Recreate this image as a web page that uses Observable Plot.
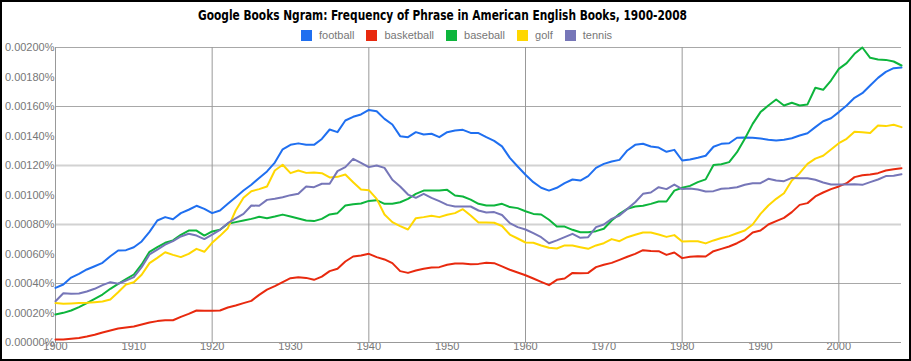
<!DOCTYPE html>
<html>
<head>
<meta charset="utf-8">
<script src="https://cdn.jsdelivr.net/npm/d3@7"></script>
<script src="https://cdn.jsdelivr.net/npm/@observablehq/plot@0.6"></script>
<style>
  body { margin: 0; background: #fff; }
  #wrap { position: relative; width: 911px; height: 361px; overflow: hidden; background: #fff; }
  #chart { position: absolute; left: 0; top: 0; }
  #border { position: absolute; left: 0; top: 0; width: 911px; height: 361px; box-sizing: border-box; border: 2px solid #000; pointer-events: none; }
  #title { position: absolute; top: 7px; left: 198px; white-space: nowrap; transform-origin: 0 0;
           font-family: "Liberation Sans Narrow", "DejaVu Sans Condensed", "Liberation Sans", sans-serif;
           font-weight: bold; font-size: 13.5px; line-height: 16px; color: #000; }
  #legend { position: absolute; top: 29px; left: 301px; display: flex; align-items: center; white-space: nowrap;
            font-family: "Liberation Sans", Arial, sans-serif; font-size: 11px; color: #777; line-height: 13px; }
  .item { display: flex; align-items: center; margin-right: 12px; }
  .sw { width: 11px; height: 11px; margin-right: 7px; }
</style>
</head>
<body>
<div id="wrap">
  <div id="chart"></div>
  <div id="title"></div>
  <div id="legend"></div>
  <div id="border"></div>
</div>
<script>
const titleText = "Google Books Ngram: Frequency of Phrase in American English Books, 1900-2008";
const names = ["football", "basketball", "baseball", "golf", "tennis"];
const colors = ["#1f6ff0", "#e8290e", "#0db53c", "#ffd700", "#7676b8"];
const years = d3.range(1900, 2009);
const xTicks = [1900, 1910, 1920, 1930, 1940, 1950, 1960, 1970, 1980, 1990, 2000];
const xGrid = [1920, 1940, 1960, 1980, 2000];
// values in units of 0.00001 %
const yTicks = [0, 20, 40, 60, 80, 100, 120, 140, 160, 180, 200];
const yGridThin = [40, 160, 200];
const yGridSoft = [80, 120];

const football = [
  37, 39.3, 44, 46.5, 49.5, 51.7, 54, 58.5, 62.4, 62.6,
  64.6, 68.5, 75, 82.7, 85, 83.6, 87.7, 90, 92.7, 90.6,
  87.7, 89.5, 94, 98.5, 103, 107, 111.6, 116, 122, 131,
  134, 135, 134, 134, 138, 144.4, 142.6, 150.5, 153, 154.6,
  157.7, 156.8, 151.6, 147.8, 139.9, 139.2, 142.6, 141, 141.5, 139.2,
  142.6, 143.7, 144.2, 142.1, 142, 139.2, 136.7, 133, 125.2, 119.3,
  113.7, 108.7, 104.9, 103, 104.9, 108, 110.5, 109.8, 112.8, 118.4,
  121.1, 122.7, 123.8, 130.2, 134, 134.7, 132.9, 132.2, 129.3, 130.6,
  123.4, 124, 125.2, 126.6, 132.7, 134.7, 135.1, 138.8, 139, 138.8,
  138.3, 137.4, 137, 137.4, 138.5, 140.3, 141.9, 146, 150, 152,
  156.2, 160.7, 165.9, 169, 174.2, 179.4, 183.5, 186, 186.4
];
const basketball = [
  2, 2, 2.5, 3, 4, 5.2, 6.8, 8.1, 9.5, 10.2,
  10.8, 12.2, 13.6, 14.5, 15.1, 15.1, 17.4, 19.4, 21.7, 21.5,
  21.5, 21.7, 23.7, 25.1, 26.7, 28.2, 32.3, 35.9, 38.2, 41,
  43.6, 44.3, 43.8, 42.5, 44.7, 48.4, 50, 54.9, 58.3, 59,
  60.1, 57.9, 56.3, 53.8, 48.4, 47.2, 48.8, 50, 50.8, 51.1,
  52.7, 53.6, 53.6, 53.1, 53.3, 54, 53.8, 51.6, 49.3, 47.5,
  45.6, 43.4, 41.1, 38.9, 42.5, 43.4, 47.2, 47, 47.2, 51.1,
  52.7, 54, 56, 58.1, 60.1, 62.6, 62.1, 61.9, 59.4, 61,
  57.2, 58.1, 58.5, 58.3, 61.9, 63.5, 65.1, 67.3, 70.1, 74.6,
  75.9, 80, 82.3, 84.5, 88.4, 93.3, 94.5, 99, 101.7, 104,
  105.8, 108, 112.1, 113.4, 113.9, 114.8, 116.6, 117.5, 118.2
];
const baseball = [
  19, 20.1, 21.7, 24, 26.7, 29.6, 32.5, 36.4, 39.8, 42.9,
  46.1, 52.9, 61.5, 64.6, 67.6, 69.2, 73, 75.9, 75.9, 72.5,
  75.3, 76.4, 80.5, 81.6, 82.7, 83.8, 85.2, 84.3, 85.4, 86.7,
  85.4, 84.1, 82.7, 82.3, 83.8, 86.8, 87.7, 92.9, 93.8, 94.2,
  96, 96.5, 94, 94, 95.1, 97.4, 100.8, 103, 103, 103,
  103.5, 99.7, 99, 96.9, 94, 92.9, 92.9, 94, 91.8, 91.1,
  89, 87.2, 86.8, 83.2, 78.6, 78.6, 76.4, 74.8, 74.8, 75.5,
  77.1, 82.7, 87.2, 90.6, 92.2, 92.7, 94, 95.6, 95.6, 103,
  104.9, 106.2, 108.7, 110.6, 120.3, 120.9, 122.3, 129, 138.1, 148.2,
  156.2, 160.7, 164.7, 160.7, 162.5, 160.7, 161.4, 172.7, 171.3, 177.6,
  185.5, 189.4, 195.7, 200, 193, 191.9, 191.6, 190.5, 187.8
];
const golf = [
  26.7, 26.2, 26.4, 26.7, 26.9, 27.3, 27.8, 29.2, 34.1, 39.3,
  40.9, 45.9, 53.8, 57.4, 61.2, 59.4, 57.9, 60.1, 63.5, 61.5,
  67.6, 72.3, 77.5, 89.5, 98.1, 102.6, 104, 105.8, 116.6, 120.5,
  114.8, 116.6, 115, 115.3, 114.8, 111.9, 112.3, 113.9, 108.7, 103.7,
  103.3, 97.4, 86.8, 81.6, 78.9, 76.6, 84.3, 85, 85.9, 85,
  86.6, 87.7, 90.4, 86.1, 81.4, 81.4, 81.2, 79, 73.2, 70.5,
  67.8, 67.6, 65.8, 64.2, 63.7, 65.8, 65.8, 64.6, 63.5, 65.8,
  67.3, 70.1, 68.7, 71.4, 73, 74.6, 74.6, 73.2, 71.6, 72.8,
  68.5, 68.7, 68.7, 67.2, 69.2, 70.8, 72.1, 74.1, 75.9, 80,
  87.2, 92.9, 97.4, 101.2, 109.8, 114.8, 121.1, 124.7, 126.6, 130.8,
  135.1, 138.1, 142.8, 142.6, 142.1, 147.1, 146.7, 147.6, 146
];
const tennis = [
  28, 33.4, 33, 33.2, 34.6, 36.4, 38.9, 40.9, 39.8, 42,
  44.3, 51.1, 59.7, 63, 66.4, 68.7, 71.9, 73.7, 72.5, 70.1,
  73.2, 76.4, 80.9, 84.1, 87.2, 92.9, 92.7, 96.7, 97.4, 98.5,
  99.9, 100.8, 105.8, 105.3, 107.6, 107.6, 116.2, 118.9, 124.5, 121.8,
  118.9, 120, 118.4, 110.3, 105.8, 100.3, 98.1, 100.8, 98.1, 95.8,
  93.3, 92.2, 92.2, 92.2, 89.5, 88.1, 88.4, 86.4, 80.9, 78.2,
  76.6, 74.1, 71.4, 67.3, 69.2, 71.4, 73.7, 71, 71.4, 78.2,
  80, 83.8, 86.1, 90.6, 95.1, 100.8, 101.7, 105.3, 104, 107.1,
  104, 104.4, 103.7, 102.4, 102.6, 104.2, 104.6, 105.3, 106.9, 108,
  108, 111, 109.8, 109.4, 111.6, 111.4, 111.4, 110.3, 108.5, 107.1,
  107.1, 107.1, 107.3, 106.9, 108.7, 110.5, 112.8, 113, 114.1
];

const seriesValues = [football, basketball, baseball, golf, tennis];
const data = names.flatMap((name, k) => seriesValues[k].map((v, i) => ({name, year: years[i], value: v})));

const chart = Plot.plot({
  width: 911,
  height: 361,
  marginLeft: 55,
  marginRight: 10,
  marginTop: 47,
  marginBottom: 19,
  style: {fontFamily: "'Liberation Sans', Arial, sans-serif", fontSize: "11px", color: "#777", background: "transparent", overflow: "visible"},
  x: {domain: [1900, 2008], ticks: xTicks, tickFormat: d => String(d), tickSize: 0, tickPadding: 0, label: null},
  y: {domain: [0, 200], ticks: yTicks, tickFormat: d => (d / 100000).toFixed(5) + "%", tickSize: 0, tickPadding: 1, label: null},
  color: {domain: names, range: colors},
  marks: [
    Plot.ruleY(yGridSoft, {stroke: "#d2d2d2", strokeWidth: 2}),
    Plot.ruleY(yGridThin, {stroke: "#a8a8a8", strokeWidth: 1}),
    Plot.ruleX(xGrid, {stroke: "#999", strokeWidth: 1}),
    Plot.ruleX([1900], {stroke: "#999", strokeWidth: 1}),
    Plot.ruleY([0], {stroke: "#999", strokeWidth: 1}),
    Plot.lineY(data, {x: "year", y: "value", z: "name", stroke: "name", strokeWidth: 2, strokeLinejoin: "round"})
  ]
});
document.getElementById("chart").appendChild(chart);

const t = document.getElementById("title");
const span = document.createElement("span");
span.textContent = titleText;
t.appendChild(span);
const w = span.getBoundingClientRect().width;
if (w > 0) t.style.transform = `scaleX(${489 / w})`;

const legend = document.getElementById("legend");
names.forEach((n, i) => {
  const item = document.createElement("div");
  item.className = "item";
  const sw = document.createElement("div");
  sw.className = "sw";
  sw.style.background = colors[i];
  const lab = document.createElement("span");
  lab.textContent = n;
  item.appendChild(sw);
  item.appendChild(lab);
  legend.appendChild(item);
});
</script>
</body>
</html>
